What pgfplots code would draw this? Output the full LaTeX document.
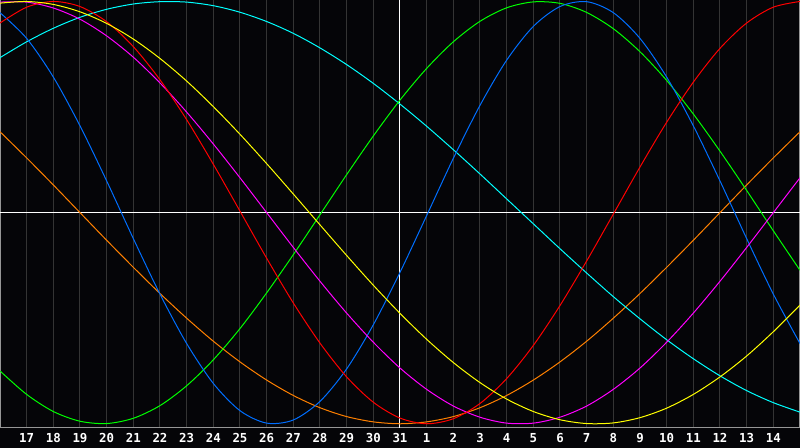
\documentclass[border=0pt]{standalone}
\usepackage{pgfplots}
\usepackage{pgfplotstable}
\pgfplotsset{compat=1.18}
\usepackage{fontspec}
\setmonofont{DejaVu Sans Mono}

\definecolor{bgc}{RGB}{5,5,8}
\definecolor{gridc}{RGB}{52,52,52}
\definecolor{framec}{RGB}{150,150,150}
\definecolor{cblue}{RGB}{0,110,255}
\definecolor{cred}{RGB}{255,0,0}
\definecolor{cgreen}{RGB}{0,255,0}
\definecolor{cmagenta}{RGB}{255,0,255}
\definecolor{cyellow}{RGB}{255,255,0}
\definecolor{ccyan}{RGB}{0,255,255}
\definecolor{corange}{RGB}{255,128,0}

% day index, then one column per curve
\pgfplotstableread{
t  blue    red     green   magenta yellow  cyan    orange
0  0.947   0.898  -0.750   0.997   0.992   0.734   0.383
1  0.825   0.973  -0.861   0.997   1.000   0.809   0.259
2  0.642   1.000  -0.942   0.969   0.986   0.873   0.131
3  0.411   0.976  -0.988   0.916   0.951   0.925   0.000
4  0.150   0.904  -0.999   0.837   0.896   0.963  -0.131
5 -0.123   0.786  -0.974   0.736   0.822   0.988  -0.259
6 -0.386   0.629  -0.914   0.614   0.730   0.999  -0.383
7 -0.620   0.440  -0.820   0.476   0.623   0.997  -0.500
8 -0.809   0.229  -0.697   0.325   0.502   0.980  -0.609
9 -0.938   0.007  -0.549   0.165   0.371   0.949  -0.707
10 -0.997 -0.216  -0.380   0.000   0.232   0.905  -0.793
11 -0.982 -0.428  -0.199  -0.165   0.088   0.849  -0.866
12 -0.894 -0.618  -0.010  -0.325  -0.058   0.780  -0.924
13 -0.740 -0.778   0.180  -0.476  -0.203   0.701  -0.966
14 -0.531 -0.898   0.363  -0.614  -0.344   0.612  -0.991
15 -0.283 -0.973   0.533  -0.736  -0.477   0.514  -1.000
16 -0.014 -1.000   0.683  -0.837  -0.600   0.409  -0.991
17  0.257 -0.976   0.809  -0.916  -0.710   0.298  -0.966
18  0.508 -0.904   0.906  -0.969  -0.805   0.183  -0.924
19  0.722 -0.786   0.970  -0.997  -0.883   0.065  -0.866
20  0.882 -0.629   0.998  -0.997  -0.942  -0.053  -0.793
21  0.976 -0.440   0.991  -0.969  -0.981  -0.171  -0.707
22  0.999 -0.229   0.948  -0.916  -0.999  -0.286  -0.609
23  0.947 -0.007   0.871  -0.837  -0.996  -0.398  -0.500
24  0.825  0.216   0.762  -0.736  -0.971  -0.503  -0.383
25  0.642  0.428   0.626  -0.614  -0.926  -0.602  -0.259
26  0.411  0.618   0.467  -0.476  -0.861  -0.692  -0.131
27  0.150  0.778   0.291  -0.325  -0.778  -0.773   0.000
28 -0.123  0.898   0.105  -0.165  -0.679  -0.843   0.131
29 -0.386  0.973  -0.086   0.000  -0.564  -0.900   0.259
30 -0.620  1.000  -0.273   0.165  -0.438  -0.945   0.383
}\bio

\begin{document}
\begin{tikzpicture}
\fill[bgc] (0,0) rectangle (400pt,224pt);
\begin{axis}[
  at={(0pt,10pt)}, anchor=south west,
  width=400pt, height=214pt, scale only axis,
  xmin=0, xmax=30,
  ymin=-1.02, ymax=1.007,
  axis background/.style={fill=bgc},
  axis line style={framec, line width=0.5pt},
  xtick={1,...,29},
  xticklabels={17,18,19,20,21,22,23,24,25,26,27,28,29,30,31,1,2,3,4,5,6,7,8,9,10,11,12,13,14},
  xticklabel style={anchor=center, yshift=-5pt, text=white,
    font=\ttfamily\bfseries\fontsize{6.2}{7}\selectfont},
  ytick=\empty,
  major tick length=0pt,
  xmajorgrids,
  x grid style={gridc, line width=0.5pt},
  every axis plot/.append style={line width=0.5pt, smooth, no markers},
]
\draw[white, line width=0.5pt] (axis cs:0,0) -- (axis cs:30,0);
\draw[white, line width=0.5pt] (axis cs:15,-1.02) -- (axis cs:15,1.007);
\addplot[corange] table[x=t, y=orange] {\bio};
\addplot[ccyan] table[x=t, y=cyan] {\bio};
\addplot[cgreen] table[x=t, y=green] {\bio};
\addplot[cblue] table[x=t, y=blue] {\bio};
\addplot[cmagenta] table[x=t, y=magenta] {\bio};
\addplot[cred] table[x=t, y=red] {\bio};
\addplot[cyellow] table[x=t, y=yellow] {\bio};
\end{axis}
\pgfresetboundingbox
\path[use as bounding box] (0,0) rectangle (400pt,224pt);
\end{tikzpicture}
\end{document}
